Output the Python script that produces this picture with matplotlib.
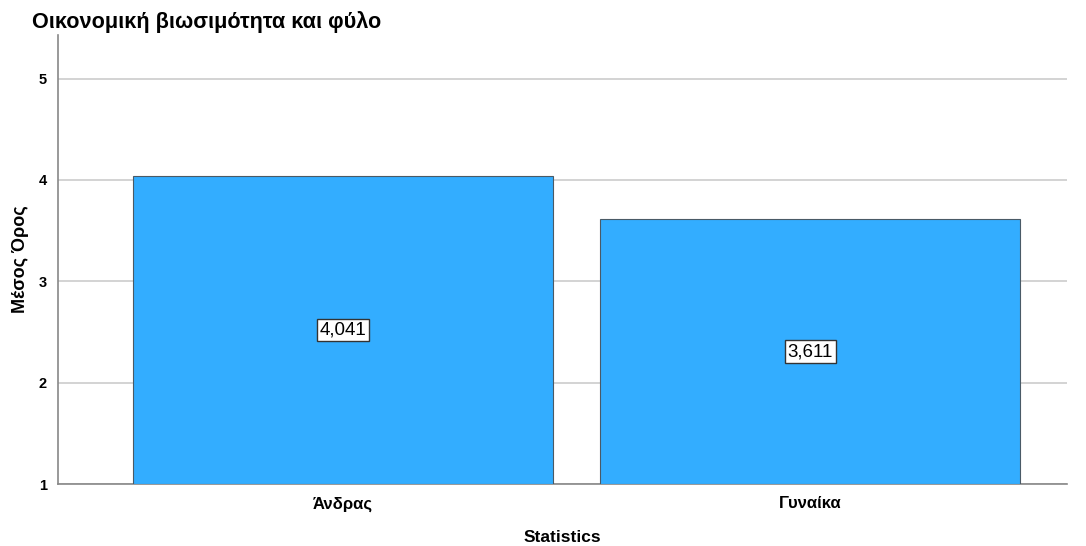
import matplotlib
matplotlib.use("Agg")
import matplotlib.pyplot as plt

categories = ["Άνδρας", "Γυναίκα"]
values = [4.041, 3.611]
value_labels = ["4,041", "3,611"]
yticks = [1, 2, 3, 4, 5]

plt.rcParams['font.family'] = ['Liberation Sans', 'DejaVu Sans']

fig = plt.figure(figsize=(10.86, 5.46), dpi=100)
ax = fig.add_axes([58/1086, 1-484/546, (1067-58)/1086, (484-35)/546])

x = list(range(len(categories)))
base = 1
ax.bar(x, [v - base for v in values], bottom=base, width=0.9,
       color="#33adff", edgecolor="#4a5a66", linewidth=0.8, zorder=3)

for xi, v, lab in zip(x, values, value_labels):
    ax.text(xi, (base + v) / 2, lab, ha="center", va="center", fontsize=13.5,
            color="black", zorder=4,
            bbox=dict(boxstyle="square,pad=0.15", fc="white", ec="#333333", lw=1.0))

ax.set_ylim(1, 5.43)
ax.set_xlim(-0.61, 1.55)
ax.set_yticks(yticks)
ax.set_yticklabels([str(t) for t in yticks], fontsize=10.5, fontweight="bold")
ax.set_xticks(x)
ax.set_xticklabels(categories, fontsize=12, fontweight="bold")
ax.tick_params(length=0, pad=8)
ax.tick_params(axis="x", pad=9)
ax.yaxis.grid(True, color="#cccccc", linewidth=1.2, zorder=0)
ax.set_axisbelow(True)
for s in ["top", "right"]:
    ax.spines[s].set_visible(False)
for s in ["left", "bottom"]:
    ax.spines[s].set_color("#888888")
    ax.spines[s].set_linewidth(1.2)

ax.set_ylabel("Μέσος Όρος", fontsize=13, fontweight="bold", labelpad=7)
ax.set_xlabel("Statistics", fontsize=12.5, fontweight="bold", labelpad=13)
fig.text(32/1086, 1-22/546, "Οικονομική βιωσιμότητα και φύλο", fontsize=15.6,
         fontweight="bold", ha="left", va="center")

fig.savefig("out.png", dpi=100)
